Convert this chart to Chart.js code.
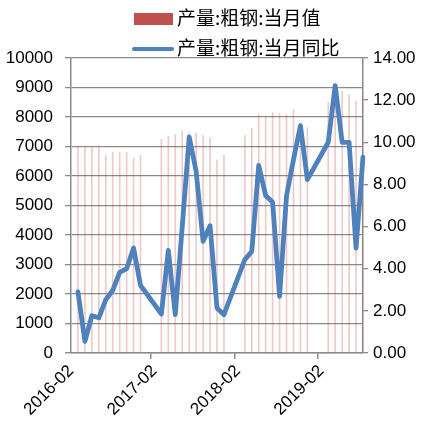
<!DOCTYPE html>
<html>
<head>
<meta charset="utf-8">
<script src="https://cdn.jsdelivr.net/npm/chart.js@4/dist/chart.umd.min.js"></script>
<style>
html,body{margin:0;padding:0;background:#fff;}
#wrap{width:430px;height:432px;}
</style>
</head>
<body>
<div id="wrap"><canvas id="c" width="430" height="432" style="width:430px;height:432px"></canvas></div>
<script>
const categories = [
 "2016-02","2016-03","2016-04","2016-05","2016-06","2016-07","2016-08","2016-09","2016-10","2016-11","2016-12",
 "2017-01","2017-02","2017-03","2017-04","2017-05","2017-06","2017-07","2017-08","2017-09","2017-10","2017-11","2017-12",
 "2018-01","2018-02","2018-03","2018-04","2018-05","2018-06","2018-07","2018-08","2018-09","2018-10","2018-11","2018-12",
 "2019-01","2019-02","2019-03","2019-04","2019-05","2019-06","2019-07","2019-08"
];
const seriesNames = ["产量:粗钢:当月值", "产量:粗钢:当月同比"];
const monthlyOutput = [
 null,7000,6970,6970,7000,6690,6810,6810,6810,6610,6700,
 null,null,7250,7340,7400,7520,7450,7460,7370,7290,6550,6700,
 null,null,7370,7620,8080,8000,8150,8130,8080,8250,7800,7640,
 null,null,8500,8500,8870,8750,8530,8700
];
const yoyGrowth = [
 null,2.90,0.55,1.77,1.67,2.53,2.97,3.83,4.00,4.98,3.21,
 null,null,1.85,4.87,1.82,6.00,10.25,8.62,5.30,6.04,2.13,1.82,
 null,null,4.43,4.82,8.90,7.47,7.15,2.69,7.47,9.17,10.79,8.23,
 null,null,10.00,12.69,10.00,10.00,4.98,9.30
];
const xTickLabels = ["2016-02","2017-02","2018-02","2019-02"];

const RED = '#C0504D', BLUE = '#4F81BD', GRID = '#8a8a8a';
const numFont = {family:'"Liberation Sans", Arial, sans-serif', size:17};
const cjkFont = '19px "Noto Sans CJK SC", sans-serif';

const legendPlugin = {
  id:'customLegend',
  afterDraw(chart){
    const ctx = chart.ctx;
    ctx.save();
    ctx.fillStyle = RED;
    ctx.fillRect(134, 13, 39, 12);
    ctx.strokeStyle = BLUE;
    ctx.lineWidth = 4;
    ctx.lineCap = 'round';
    ctx.beginPath(); ctx.moveTo(134, 49); ctx.lineTo(172, 49); ctx.stroke();
    ctx.fillStyle = '#000';
    ctx.font = cjkFont;
    ctx.textBaseline = 'middle';
    ctx.textAlign = 'left';
    ctx.fillText(seriesNames[0], 177, 18);
    ctx.fillText(seriesNames[1], 177, 48);
    ctx.restore();
  }
};

new Chart(document.getElementById('c'), {
  data: {
    labels: categories,
    datasets: [
      {
        type:'line', label: seriesNames[1], data: yoyGrowth, yAxisID:'y1',
        borderColor: BLUE, borderWidth: 4.8, pointRadius: 0, tension: 0,
        spanGaps: true, order: 0, borderJoinStyle:'round', borderCapStyle:'round'
      },
      {
        type:'bar', label: seriesNames[0], data: monthlyOutput, yAxisID:'y',
        backgroundColor: 'rgba(192,80,77,0.3)', barThickness: 1, order: 1
      }
    ]
  },
  options: {
    responsive: false,
    animation: false,
    devicePixelRatio: 1,
    layout: { padding: { top: 58, right: 0, left: 0, bottom: 0 } },
    plugins: { legend: { display: false }, tooltip: { enabled: false } },
    scales: {
      x: {
        type: 'category',
        offset: false,
        border: { display: true, color: GRID, width: 1.5 },
        grid: { drawOnChartArea: false, drawTicks: true, tickLength: 6, lineWidth: 1.5,
          color: c => (c.tick && xTickLabels.includes(c.tick.label)) ? GRID : 'rgba(0,0,0,0)' },
        ticks: {
          autoSkip: false, maxRotation: 45, minRotation: 45, color: '#000', font: numFont, padding: 2,
          callback: function(v, i){ const l = categories[i]; return xTickLabels.includes(l) ? l : ''; }
        },
        afterFit(s){ s.height = 79; }
      },
      y: {
        position: 'left', min: 0, max: 10000,
        border: { display: true, color: GRID, width: 1.5 },
        grid: { color: GRID, lineWidth: 1.3, tickLength: 6 },
        ticks: { stepSize: 1000, color: '#000', font: numFont, padding: 12,
          callback: v => String(v) },
        afterFit(s){ s.width = 71; }
      },
      y1: {
        position: 'right', min: 0, max: 14,
        border: { display: true, color: GRID, width: 1.5 },
        grid: { drawOnChartArea: false, color: GRID, lineWidth: 1.3, tickLength: 5 },
        ticks: { stepSize: 2, color: '#000', font: numFont, padding: 5,
          callback: v => Number(v).toFixed(2) },
        afterFit(s){ s.width = 67; }
      }
    }
  },
  plugins: [legendPlugin]
});
</script>
</body>
</html>
